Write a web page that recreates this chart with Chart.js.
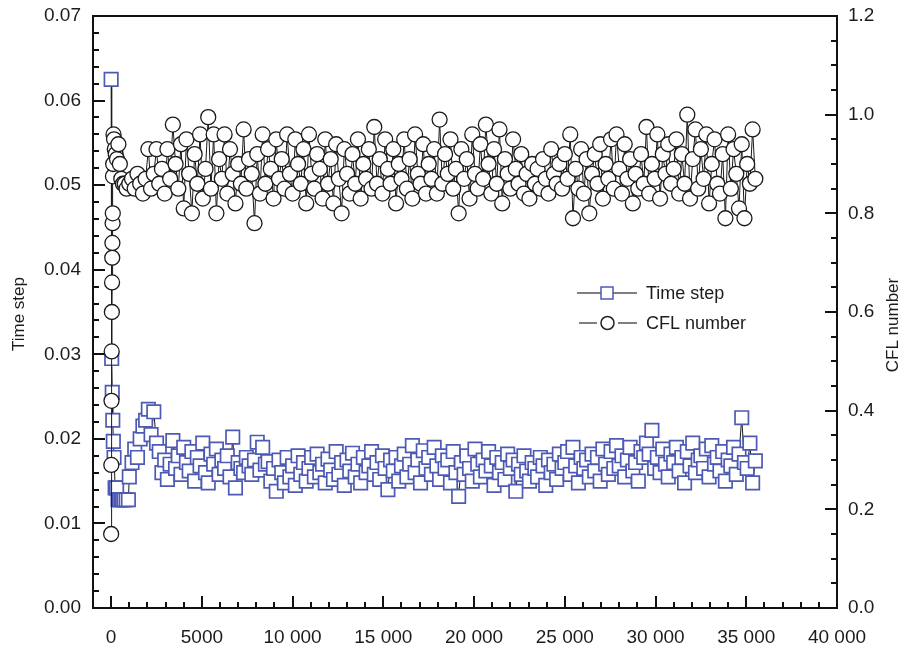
<!DOCTYPE html>
<html>
<head>
<meta charset="utf-8">
<script src="https://cdn.jsdelivr.net/npm/chart.js@4.4.1/dist/chart.umd.min.js"></script>
<style>
  html, body { margin: 0; padding: 0; background: #fff; }
  #wrap { width: 903px; height: 650px; }
</style>
</head>
<body>
<div id="wrap"><canvas id="chart" width="903" height="650"></canvas></div>
<script>
const dtStartSteps = [0, 30, 60, 90, 120, 160, 220, 300, 380, 460, 540, 620, 700, 820, 950];
const dtStartValues = [0.0625, 0.0295, 0.0255, 0.0222, 0.0197, 0.0178, 0.0142, 0.0142, 0.0128, 0.0128, 0.0128, 0.0128, 0.0128, 0.0128, 0.0128];
const cflStartSteps = [0, 10, 20, 30, 40, 50, 60, 70, 80, 90, 100, 110, 130, 160, 200, 250, 320, 400, 480, 560, 650, 750, 850];
const cflStartValues = [0.15, 0.29, 0.42, 0.52, 0.60, 0.66, 0.71, 0.74, 0.78, 0.80, 0.875, 0.90, 0.96, 0.95, 0.93, 0.92, 0.91, 0.94, 0.90, 0.87, 0.86, 0.86, 0.85];

// sampled output, one value every 150 steps from step 1000
const sampleFirst = 1000;
const sampleEvery = 150;
const dtValues = [
  0.0155, 0.0172, 0.0188, 0.0178, 0.0200, 0.0215, 0.0222, 0.0235, 0.0205, 0.0232,
  0.0195, 0.0185, 0.0160, 0.0175, 0.0152, 0.0170, 0.0198, 0.0165, 0.0180, 0.0158,
  0.0190, 0.0172, 0.0162, 0.0185, 0.0150, 0.0178, 0.0168, 0.0195, 0.0160, 0.0148,
  0.0182, 0.0170, 0.0188, 0.0158, 0.0175, 0.0165, 0.0180, 0.0155, 0.0202, 0.0142,
  0.0172, 0.0165, 0.0160, 0.0178, 0.0168, 0.0158, 0.0175, 0.0196, 0.0163, 0.0190,
  0.0170, 0.0173, 0.0150, 0.0165, 0.0138, 0.0175, 0.0160, 0.0148, 0.0178, 0.0155,
  0.0168, 0.0145, 0.0180, 0.0158, 0.0172, 0.0150, 0.0165, 0.0178, 0.0155, 0.0182,
  0.0160, 0.0170, 0.0148, 0.0176, 0.0163, 0.0152, 0.0185, 0.0158, 0.0172, 0.0145,
  0.0175, 0.0162, 0.0183, 0.0155, 0.0170, 0.0148, 0.0178, 0.0160, 0.0168, 0.0185,
  0.0158, 0.0172, 0.0152, 0.0180, 0.0165, 0.0140, 0.0175, 0.0162, 0.0178, 0.0150,
  0.0168, 0.0182, 0.0155, 0.0170, 0.0192, 0.0160, 0.0175, 0.0148, 0.0186, 0.0165,
  0.0178, 0.0158, 0.0190, 0.0168, 0.0152, 0.0180, 0.0165, 0.0175, 0.0148, 0.0185,
  0.0160, 0.0132, 0.0172, 0.0158, 0.0180, 0.0165, 0.0150, 0.0188, 0.0170, 0.0155,
  0.0175, 0.0162, 0.0185, 0.0168, 0.0145, 0.0178, 0.0160, 0.0172, 0.0152, 0.0182,
  0.0165, 0.0175, 0.0138, 0.0170, 0.0158, 0.0180, 0.0162, 0.0150, 0.0172, 0.0165,
  0.0155, 0.0178, 0.0168, 0.0145, 0.0175, 0.0160, 0.0170, 0.0152, 0.0182, 0.0165,
  0.0172, 0.0185, 0.0158, 0.0190, 0.0168, 0.0148, 0.0178, 0.0165, 0.0175, 0.0155,
  0.0182, 0.0162, 0.0178, 0.0150, 0.0188, 0.0170, 0.0158, 0.0185, 0.0165, 0.0192,
  0.0168, 0.0180, 0.0155, 0.0175, 0.0190, 0.0162, 0.0172, 0.0150, 0.0185, 0.0178,
  0.0195, 0.0182, 0.0210, 0.0165, 0.0178, 0.0160, 0.0188, 0.0170, 0.0155, 0.0182,
  0.0172, 0.0190, 0.0162, 0.0178, 0.0148, 0.0185, 0.0168, 0.0195, 0.0160, 0.0175,
  0.0180, 0.0165, 0.0188, 0.0155, 0.0192, 0.0170, 0.0178, 0.0162, 0.0185, 0.0150,
  0.0175, 0.0168, 0.0190, 0.0158, 0.0182, 0.0225, 0.0172, 0.0165, 0.0195, 0.0148,
  0.0174
];
const cflValues = [
  0.86, 0.87, 0.85, 0.88, 0.86, 0.84, 0.87, 0.93, 0.85, 0.88,
  0.93, 0.86, 0.89, 0.84, 0.93, 0.87, 0.98, 0.90, 0.85, 0.94,
  0.81, 0.95, 0.88, 0.80, 0.92, 0.86, 0.96, 0.83, 0.89, 0.995,
  0.85, 0.96, 0.80, 0.91, 0.87, 0.96, 0.84, 0.93, 0.88, 0.82,
  0.90, 0.86, 0.97, 0.85, 0.91, 0.88, 0.78, 0.92, 0.84, 0.96,
  0.86, 0.93, 0.89, 0.83, 0.95, 0.87, 0.91, 0.85, 0.96, 0.88,
  0.84, 0.95, 0.90, 0.86, 0.93, 0.82, 0.96, 0.88, 0.85, 0.92,
  0.89, 0.83, 0.95, 0.86, 0.91, 0.82, 0.94, 0.87, 0.80, 0.93,
  0.88, 0.84, 0.92, 0.86, 0.95, 0.83, 0.90, 0.87, 0.93, 0.85,
  0.975, 0.86, 0.91, 0.84, 0.95, 0.89, 0.86, 0.93, 0.82, 0.90,
  0.87, 0.95, 0.85, 0.91, 0.83, 0.96, 0.88, 0.86, 0.94, 0.84,
  0.90, 0.87, 0.93, 0.84, 0.99, 0.86, 0.92, 0.88, 0.95, 0.85,
  0.89, 0.80, 0.93, 0.87, 0.91, 0.83, 0.96, 0.88, 0.85, 0.94,
  0.87, 0.98, 0.90, 0.84, 0.93, 0.86, 0.97, 0.82, 0.91, 0.88,
  0.85, 0.95, 0.89, 0.86, 0.92, 0.84, 0.88, 0.83, 0.90, 0.86,
  0.89, 0.85, 0.91, 0.87, 0.84, 0.93, 0.88, 0.86, 0.90, 0.85,
  0.92, 0.87, 0.96, 0.79, 0.89, 0.85, 0.93, 0.84, 0.91, 0.80,
  0.88, 0.92, 0.86, 0.94, 0.83, 0.90, 0.87, 0.95, 0.85, 0.96,
  0.89, 0.84, 0.94, 0.87, 0.91, 0.82, 0.88, 0.85, 0.92, 0.86,
  0.975, 0.84, 0.90, 0.87, 0.96, 0.83, 0.92, 0.88, 0.94, 0.86,
  0.89, 0.95, 0.84, 0.92, 0.86, 1.00, 0.83, 0.91, 0.97, 0.85,
  0.93, 0.87, 0.96, 0.82, 0.90, 0.95, 0.86, 0.84, 0.92, 0.79,
  0.96, 0.85, 0.93, 0.88, 0.81, 0.94, 0.79, 0.90, 0.86, 0.97,
  0.87
];

const xTicks = [0, 5000, 10000, 15000, 20000, 25000, 30000, 35000, 40000];
const leftTicks = [0, 0.01, 0.02, 0.03, 0.04, 0.05, 0.06, 0.07];
const rightTicks = [0, 0.2, 0.4, 0.6, 0.8, 1.0, 1.2];

const FONT = '"Liberation Sans", Arial, Helvetica, sans-serif';
const TEXT = '#1c1c1c';
const SQUARE_BLUE = '#4d5ab4';

const sampleSteps = dtValues.map((_, i) => sampleFirst + i * sampleEvery);
const dtPoints = dtStartSteps.map((s, i) => ({ x: s, y: dtStartValues[i] }))
  .concat(sampleSteps.map((s, i) => ({ x: s, y: dtValues[i] })));
const cflPoints = cflStartSteps.map((s, i) => ({ x: s, y: cflStartValues[i] }))
  .concat(sampleSteps.map((s, i) => ({ x: s, y: cflValues[i] })));

function fmtSteps(v) {
  if (v < 10000) return String(v);
  const s = String(v);
  return s.slice(0, s.length - 3) + ' ' + s.slice(-3);
}

// fixed axis box sizes so the plot area sits where the original one does
function fixY(width) {
  return s => { s.width = width; s.paddingTop = 0; s.paddingBottom = 0; };
}

// frame, inward ticks, legend and axis titles
const framePlugin = {
  id: 'frame',
  afterDraw(chart) {
    const { ctx, chartArea: a, scales } = chart;
    ctx.save();
    ctx.strokeStyle = '#111';
    ctx.lineWidth = 2;
    ctx.strokeRect(a.left, a.top, a.right - a.left, a.bottom - a.top);

    ctx.lineWidth = 2;
    ctx.beginPath();
    for (let v = 0; v <= 40000; v += 1000) {
      const px = Math.round(scales.x.getPixelForValue(v));
      const len = v % 5000 === 0 ? 12 : 6;
      ctx.moveTo(px, a.bottom);
      ctx.lineTo(px, a.bottom - len);
    }
    for (let i = 0; i <= 35; i++) {
      const py = Math.round(scales.y.getPixelForValue(i * 0.002));
      const len = i % 5 === 0 ? 12 : 6;
      ctx.moveTo(a.left, py);
      ctx.lineTo(a.left + len, py);
    }
    for (let i = 0; i <= 24; i++) {
      const py = Math.round(scales.y1.getPixelForValue(i * 0.05));
      const len = i % 4 === 0 ? 12 : 6;
      ctx.moveTo(a.right, py);
      ctx.lineTo(a.right - len, py);
    }
    ctx.stroke();

    // legend
    ctx.strokeStyle = '#555';
    ctx.lineWidth = 1.5;
    ctx.beginPath();
    ctx.moveTo(577, 293); ctx.lineTo(637, 293);
    ctx.moveTo(579, 323); ctx.lineTo(597, 323);
    ctx.moveTo(618, 323); ctx.lineTo(637, 323);
    ctx.stroke();
    ctx.fillStyle = '#fff';
    ctx.strokeStyle = SQUARE_BLUE;
    ctx.fillRect(601, 287, 12, 12);
    ctx.strokeRect(601, 287, 12, 12);
    ctx.strokeStyle = '#222';
    ctx.beginPath();
    ctx.arc(607.5, 323, 6.5, 0, Math.PI * 2);
    ctx.fill();
    ctx.stroke();

    ctx.fillStyle = TEXT;
    ctx.font = '18px ' + FONT;
    ctx.textAlign = 'left';
    ctx.textBaseline = 'middle';
    ctx.fillText('Time step', 646, 294);
    ctx.fillText('CFL number', 646, 324);

    // axis titles, both read bottom to top
    ctx.font = '17px ' + FONT;
    ctx.textAlign = 'center';
    ctx.save();
    ctx.translate(19, 314);
    ctx.rotate(-Math.PI / 2);
    ctx.fillText('Time step', 0, 0);
    ctx.restore();
    ctx.save();
    ctx.translate(893, 325);
    ctx.rotate(-Math.PI / 2);
    ctx.fillText('CFL number', 0, 0);
    ctx.restore();
    ctx.restore();
  }
};

const tickFont = { family: FONT, size: 19 };

new Chart(document.getElementById('chart'), {
  type: 'line',
  data: {
    datasets: [
      {
        label: 'Time step',
        data: dtPoints,
        yAxisID: 'y',
        order: 2,
        borderColor: '#1a1a1a',
        borderWidth: 1,
        pointStyle: 'rect',
        pointRadius: 9.5,
        pointBorderColor: SQUARE_BLUE,
        pointBackgroundColor: '#fff',
        pointBorderWidth: 1.7
      },
      {
        label: 'CFL number',
        data: cflPoints,
        yAxisID: 'y1',
        order: 1,
        borderColor: '#1a1a1a',
        borderWidth: 1,
        pointStyle: 'circle',
        pointRadius: 7.5,
        pointBorderColor: '#1a1a1a',
        pointBackgroundColor: '#fff',
        pointBorderWidth: 1.3
      }
    ]
  },
  options: {
    responsive: false,
    animation: false,
    layout: { padding: { top: 16, left: 0, right: 0, bottom: 0 } },
    plugins: { legend: { display: false }, tooltip: { enabled: false } },
    scales: {
      x: {
        type: 'linear',
        min: -1000,
        max: 40000,
        afterBuildTicks: s => { s.ticks = xTicks.map(v => ({ value: v })); },
        afterFit: s => { s.height = 42; s.paddingLeft = 0; s.paddingRight = 0; },
        grid: { display: false, drawTicks: false },
        border: { display: false },
        ticks: { font: tickFont, color: TEXT, padding: 18, maxRotation: 0, autoSkip: false, callback: v => fmtSteps(v) }
      },
      y: {
        position: 'left',
        min: 0,
        max: 0.07,
        afterBuildTicks: s => { s.ticks = leftTicks.map(v => ({ value: v })); },
        afterFit: fixY(93),
        grid: { display: false, drawTicks: false },
        border: { display: false },
        ticks: { font: tickFont, color: TEXT, padding: 12, callback: v => v.toFixed(2) }
      },
      y1: {
        position: 'right',
        min: 0,
        max: 1.2,
        afterBuildTicks: s => { s.ticks = rightTicks.map(v => ({ value: v })); },
        afterFit: fixY(66),
        grid: { display: false, drawTicks: false },
        border: { display: false },
        ticks: { font: tickFont, color: TEXT, padding: 11, callback: v => v.toFixed(1) }
      }
    }
  },
  plugins: [framePlugin]
});
</script>
</body>
</html>
